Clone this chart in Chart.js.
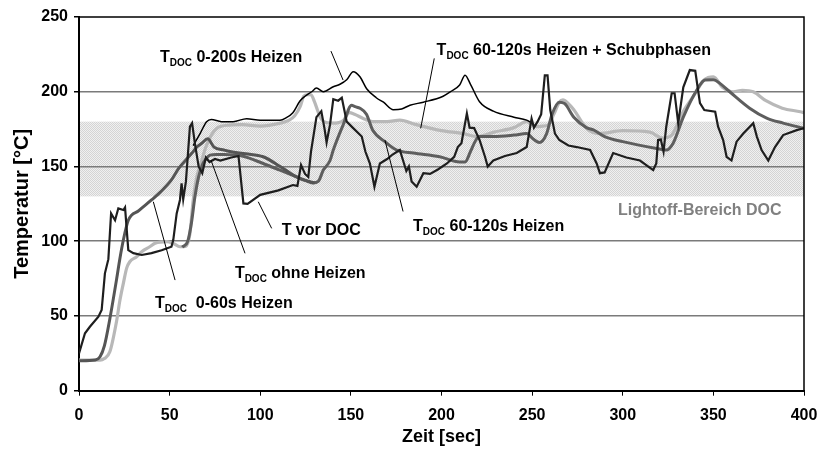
<!DOCTYPE html>
<html>
<head>
<meta charset="utf-8">
<script src="https://cdn.jsdelivr.net/npm/chart.js@4.4.1/dist/chart.umd.min.js"></script>
<style>
  html, body { margin: 0; padding: 0; background: #fff; }
  #wrap { width: 819px; height: 457px; }
</style>
</head>
<body>
<div id="wrap"><canvas id="chart"></canvas></div>
<script>
// Achsen
const xTicks = [0, 50, 100, 150, 200, 250, 300, 350, 400];
const yTicks = [0, 50, 100, 150, 200, 250];
const lightoffBereich = [130, 180];

// T vor DOC (Abgastemperatur vor DOC)
const zeitVorDoc = [0, 0.5, 3.3, 6, 10.7, 12.5, 14.3, 16.2, 17.7, 19.9, 21.7, 24.5, 25.4, 27.2, 30, 34.6, 40, 45.6, 51, 52, 53.9, 55.7, 56.6, 57.5, 59, 61.2, 62.4, 64, 66, 68, 70, 72, 75, 78, 84, 88, 90.7, 93, 100, 110, 118, 120.5, 122.5, 124.7, 126.5, 128, 131, 133.7, 135.5, 136.6, 138.5, 140.3, 143, 145, 147.7, 151, 156, 158, 160.5, 163, 166, 170, 173, 177, 180.6, 182, 183.5, 186.3, 190, 193.7, 198, 203, 207, 209, 211, 214, 215.5, 218, 221, 224, 225.5, 228.6, 235, 241.5, 247, 248, 249.7, 251, 253, 255, 257, 258.5, 260, 262.6, 265, 270, 274.6, 282, 285.6, 287.4, 290, 294.7, 302, 309.5, 316.8, 318.5, 319.5, 321, 322.5, 324, 327, 328.6, 330.6, 333.4, 337, 340, 342.6, 345, 351, 352.6, 355.4, 357.3, 360, 362.8, 366.5, 372, 374, 376.6, 380.3, 384, 388.5, 396, 400];
const tempVorDoc = [25, 25, 38.4, 42.8, 49.5, 54, 78.5, 88, 118.6, 114, 122, 120.9, 122.6, 94, 92, 90.8, 92, 94, 96.3, 100.8, 118.6, 127.6, 138.7, 128, 140, 176.6, 179, 165, 150, 145.5, 156, 153, 155, 154, 156, 157, 125.3, 125, 131, 134, 137.6, 137, 151, 145, 143, 160, 183, 187, 175, 166, 178, 195, 194, 196, 180, 176, 170, 160, 152, 136.5, 152, 155, 158, 161, 147, 150, 140, 136.5, 145.5, 145, 148, 152, 156.5, 163, 165.6, 185.5, 176, 175.7, 167.7, 156.5, 150, 154, 157, 159, 163, 170, 182, 176, 180, 185, 211, 211, 187.8, 172, 167.7, 164, 163, 161, 152, 145.5, 146, 159, 156, 154, 147.6, 152, 167.7, 168, 160, 176.6, 199, 199, 179, 203, 214.5, 214, 192.4, 187.8, 186.6, 176.6, 167.7, 156.5, 154, 166.6, 172, 179, 170, 161, 154, 163, 171, 174.3, 175.6];

// T_DOC 0-200s Heizen
const zeit0_200 = [63, 66.8, 70.4, 73, 78.6, 85, 92.5, 100, 110.9, 114, 118, 122, 124.7, 128.4, 131, 134.8, 140.3, 144, 147.7, 151.3, 155, 158.7, 164, 168, 173.4, 178, 182.6, 190, 200.9, 205, 210, 213, 216, 221, 228.6, 240, 247, 250];
const temp0_200 = [164, 172, 180, 181.5, 180, 180, 182, 181, 181, 182.4, 186, 194, 197, 200, 202.5, 200, 203.3, 205, 208, 213.4, 210, 202, 196, 193, 188, 188.5, 191, 193, 197, 200, 204.5, 211, 205, 193.3, 187, 183, 181, 179];

// T_DOC 0-60s Heizen
const zeit0_60 = [0, 9, 11.6, 14, 17, 20.8, 22.5, 24.5, 27.2, 33, 40, 45, 51, 55, 58, 62.2, 65, 67.7, 71, 74.5, 80, 83.3, 92, 101.6, 111, 120, 127, 130];
const temp0_60 = [20, 20.5, 22.7, 30, 48, 75, 88, 101, 114, 120.5, 127.6, 133, 141, 148.7, 153, 158.8, 163, 165.5, 168.5, 163, 161, 160, 158.5, 156.5, 150, 143, 140, 139];

// T_DOC ohne Heizen / 60-120s Heizen
const zeitOhne = [57, 60, 62, 64, 66, 68, 70, 72.3, 76, 80, 90, 101.6, 110.9, 120, 125, 129, 132, 134.8, 138.5, 140.3, 145.8, 150.4, 152.3, 155, 158.6, 162, 168.8, 175.3, 184.4, 199, 210, 213, 216, 219, 221, 228.6, 240, 247, 251, 254, 258, 261, 265, 268, 273, 280, 284, 290, 300, 318.7, 324, 327.8, 333.4, 340.8, 345.4, 350, 353.6, 359, 370, 379.4, 388.5, 400];
const tempOhne = [96, 100, 112, 130, 143, 151, 155, 157.6, 158, 158, 157, 152, 147.5, 143, 140.5, 139, 140, 147.6, 154, 161, 178, 191, 190, 189, 185, 174.4, 166.6, 161, 159, 156.5, 153, 153, 160, 167.7, 170, 170, 171, 172, 168, 166, 172, 185, 193, 192, 183, 176, 174.4, 170, 166.6, 162, 161, 165.6, 183, 201, 207.8, 208, 205.6, 200, 189, 182.4, 179, 175.5];

// T_DOC 60-120s Heizen + Schubphasen
const zeitSchub = [0, 11.6, 14, 17, 20.8, 22.5, 24.5, 26.3, 28, 31.8, 34.6, 39, 42, 48.4, 52, 55.7, 58.8, 61.2, 63, 65, 67, 70, 73, 76, 83, 90, 100, 111, 116, 119, 122, 124, 126, 128, 130, 131.5, 133, 135, 140, 146, 149, 152, 157, 162, 170, 177, 186, 200, 212, 220, 229, 240, 247, 250, 252.5, 256, 259, 262, 265, 267, 270, 273, 280, 287, 300, 315, 322, 327, 333, 339, 345, 350, 355, 361, 366, 372, 379, 388, 398, 400];
const tempSchub = [20.5, 20.5, 21.5, 26, 47, 60, 72, 82, 86.3, 89.6, 93, 96.3, 98.6, 99.7, 98.5, 96.3, 96.5, 105, 127.5, 143, 151, 163, 171, 175.5, 177.7, 178, 177, 179, 181, 184, 190, 197, 198, 198, 193, 188, 183, 180, 179, 181, 186, 185, 182, 180, 180, 181, 178, 174, 172, 170, 173, 176, 180, 178, 176.6, 177, 178, 185, 193, 194.5, 192, 188, 175.5, 172, 174, 173, 169, 171, 186, 197, 208, 210, 203, 200, 201, 200, 194, 189, 186.6, 186];

// Beschriftungen im Diagramm: [x, y, Haupttext, Index, Rest, Farbe]
const beschriftungen = [
    [44.7, 219.9, 'T', 'DOC', ' 0-200s Heizen', '#000'],
    [197.3, 224.6, 'T', 'DOC', ' 60-120s Heizen + Schubphasen', '#000'],
    [111.8, 104, 'T vor DOC', '', '', '#000'],
    [184.3, 107, 'T', 'DOC', ' 60-120s Heizen', '#000'],
    [86, 75.2, 'T', 'DOC', ' ohne Heizen', '#000'],
    [41.9, 55.1, 'T', 'DOC', '  0-60s Heizen', '#000'],
    [297.4, 117.6, 'Lightoff-Bereich DOC', '', '', '#808080']
];
// Hinweislinien: [x1, y1, x2, y2]
const hinweise = [
    [139, 227.2, 145.7, 207.8],
    [196, 222.3, 188.5, 175.5],
    [178.8, 119.9, 168.8, 167.6],
    [106.3, 108.6, 98.9, 126.4],
    [91.6, 91.9, 72.8, 154.3],
    [53, 74, 41, 126.4]
];

function punkte(zeit, temp) {
    return zeit.map((x, i) => ({ x: x, y: temp[i] }));
}

// Punktraster fuer den Lightoff-Bereich
function rasterMuster() {
    const c = document.createElement('canvas');
    c.width = 2; c.height = 2;
    const g = c.getContext('2d');
    g.fillStyle = '#f0f0f0'; g.fillRect(0, 0, 2, 2);
    g.fillStyle = '#d4d4d4'; g.fillRect(0, 0, 1, 1); g.fillRect(1, 1, 1, 1);
    return g.createPattern(c, 'repeat');
}

const bereichPlugin = {
    id: 'bereich',
    beforeDraw(chart) {
        const { ctx, chartArea, scales } = chart;
        const y1 = scales.y.getPixelForValue(lightoffBereich[1]);
        const y0 = scales.y.getPixelForValue(lightoffBereich[0]);
        ctx.save();
        ctx.fillStyle = rasterMuster();
        ctx.fillRect(chartArea.left, y1, chartArea.right - chartArea.left, y0 - y1);
        ctx.restore();
    },
    afterDatasetsDraw(chart) {
        const { ctx, chartArea, scales } = chart;
        ctx.save();
        // Rahmen oben und rechts
        ctx.strokeStyle = '#000';
        ctx.lineWidth = 1.5;
        ctx.beginPath();
        ctx.moveTo(chartArea.left, chartArea.top);
        ctx.lineTo(chartArea.right, chartArea.top);
        ctx.lineTo(chartArea.right, chartArea.bottom);
        ctx.stroke();

        // Hinweislinien
        ctx.lineWidth = 1;
        hinweise.forEach(h => {
            ctx.beginPath();
            ctx.moveTo(scales.x.getPixelForValue(h[0]), scales.y.getPixelForValue(h[1]));
            ctx.lineTo(scales.x.getPixelForValue(h[2]), scales.y.getPixelForValue(h[3]));
            ctx.stroke();
        });

        // Texte mit tiefgestelltem Index
        ctx.textBaseline = 'alphabetic';
        beschriftungen.forEach(b => {
            let x = scales.x.getPixelForValue(b[0]);
            const y = scales.y.getPixelForValue(b[1]);
            ctx.fillStyle = b[5];
            ctx.font = 'bold 16px "Liberation Sans", Arial, sans-serif';
            ctx.fillText(b[2], x, y);
            x += ctx.measureText(b[2]).width;
            if (b[3]) {
                ctx.font = 'bold 10px "Liberation Sans", Arial, sans-serif';
                ctx.fillText(b[3], x, y + 4);
                x += ctx.measureText(b[3]).width;
            }
            if (b[4]) {
                ctx.font = 'bold 16px "Liberation Sans", Arial, sans-serif';
                ctx.fillText(b[4], x, y);
            }
        });
        ctx.restore();
    }
};

const schrift = { family: '"Liberation Sans", Arial, sans-serif', weight: 'bold' };

new Chart(document.getElementById('chart'), {
    type: 'line',
    data: {
        datasets: [
            {
                label: 'T vor DOC',
                data: punkte(zeitVorDoc, tempVorDoc),
                borderColor: '#1e1e1e', borderWidth: 2.2, tension: 0, order: 1
            },
            {
                label: 'T_DOC 0-200s Heizen',
                data: punkte(zeit0_200, temp0_200),
                borderColor: '#000', borderWidth: 1.5, cubicInterpolationMode: 'monotone', order: 2
            },
            {
                label: 'T_DOC 0-60s Heizen',
                data: punkte(zeit0_60, temp0_60),
                borderColor: '#555', borderWidth: 3, cubicInterpolationMode: 'monotone', order: 3
            },
            {
                label: 'T_DOC ohne Heizen',
                data: punkte(zeitOhne, tempOhne),
                borderColor: '#5e5e5e', borderWidth: 3, cubicInterpolationMode: 'monotone', order: 4
            },
            {
                label: 'T_DOC 60-120s Heizen + Schubphasen',
                data: punkte(zeitSchub, tempSchub),
                borderColor: '#b8b8b8', borderWidth: 3.2, cubicInterpolationMode: 'monotone', order: 5
            }
        ]
    },
    options: {
        responsive: true,
        maintainAspectRatio: false,
        animation: false,
        elements: { point: { radius: 0 } },
        layout: { padding: { top: 17, right: 15, left: 0, bottom: 0 } },
        plugins: { legend: { display: false }, tooltip: { enabled: false } },
        scales: {
            x: {
                type: 'linear', min: 0, max: 400,
                afterBuildTicks: s => { s.ticks = xTicks.map(v => ({ value: v })); },
                afterFit: s => { s.height = 66.3; s.paddingRight = 0; s.paddingLeft = 0; },
                ticks: { color: '#000', font: { ...schrift, size: 16 }, padding: 10, maxRotation: 0 },
                grid: { drawOnChartArea: false, tickColor: '#000', tickLength: 5 },
                border: { color: '#000', width: 2 },
                title: { display: true, text: 'Zeit [sec]', color: '#000', font: { ...schrift, size: 18 }, padding: { top: 0, bottom: 9 } }
            },
            y: {
                type: 'linear', min: 0, max: 250,
                afterBuildTicks: s => { s.ticks = yTicks.map(v => ({ value: v })); },
                afterFit: s => { s.width = 79; },
                ticks: { color: '#000', font: { ...schrift, size: 16 }, padding: 6 },
                grid: {
                    color: c => (c.tick && c.tick.value > 0 && c.tick.value < 250) ? '#7a7a7a' : 'rgba(0,0,0,0)',
                    lineWidth: 1.5, tickColor: '#000', tickLength: 5
                },
                border: { color: '#000', width: 2 },
                title: { display: true, text: 'Temperatur [°C]', color: '#000', font: { ...schrift, size: 20 }, padding: { top: 10, bottom: 0 } }
            }
        }
    },
    plugins: [bereichPlugin]
});
</script>
</body>
</html>
